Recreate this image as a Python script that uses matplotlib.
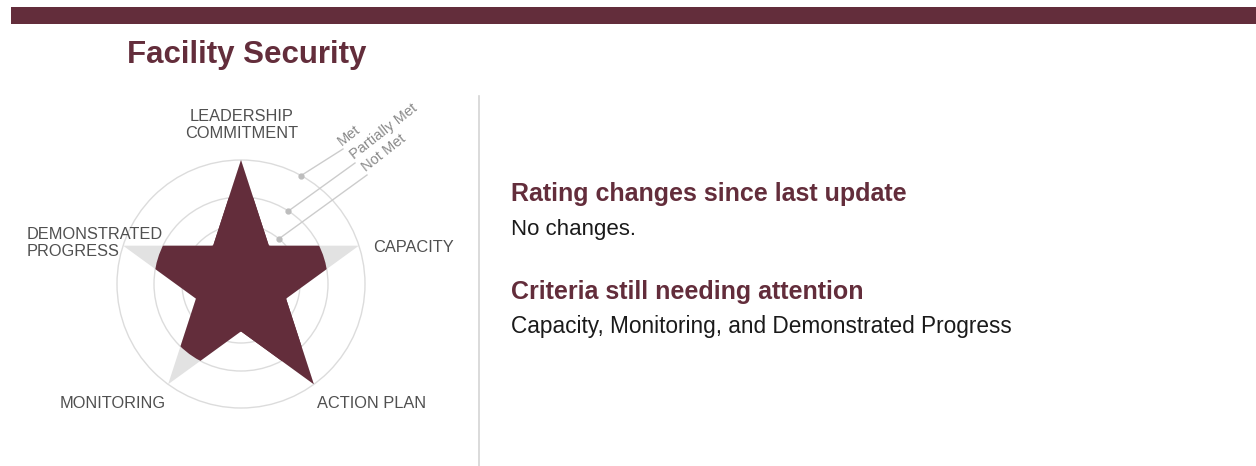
import numpy as np
import matplotlib.pyplot as plt
from matplotlib.patches import Polygon, Circle, Wedge, Rectangle

plt.rcParams['font.family'] = ['Liberation Sans', 'DejaVu Sans']

# data
title = 'Facility Security'
criteria = ['LEADERSHIP\nCOMMITMENT', 'CAPACITY', 'ACTION PLAN', 'MONITORING', 'DEMONSTRATED\nPROGRESS']
ratings = ['Met', 'Partially Met', 'Met', 'Partially Met', 'Partially Met']
levels = ['Not Met', 'Partially Met', 'Met']
changes_head = 'Rating changes since last update'
changes_text = 'No changes.'
attention_head = 'Criteria still needing attention'
attention_text = 'Capacity, Monitoring, and Demonstrated Progress'

maroon = '#632d3b'
W, H = 1256, 466

fig = plt.figure(figsize=(W / 100, H / 100), dpi=100)
ax = fig.add_axes([0, 0, 1, 1])
ax.set_xlim(0, W)
ax.set_ylim(0, H)
ax.axis('off')

def py(y):
    # pixel row from the top -> data y
    return H - y

# header bar and title
ax.add_patch(Rectangle((11, py(24)), W - 11, 17, color=maroon, lw=0))
ax.text(247, py(55), title, ha='center', va='center', fontsize=22.5,
        fontweight='bold', color=maroon)

# separator
ax.plot([479, 479], [py(96), 0], color='#d4d4d4', lw=1.2)

# star chart
cx, cy = 241, py(284)
ring_r = {'Not Met': 59, 'Partially Met': 87, 'Met': 124}
R = ring_r['Met']
r_in = R * 0.382

for lv in levels:
    ax.add_patch(Circle((cx, cy), ring_r[lv], fill=False, ec='#dcdcdc', lw=1.0))

ang = np.deg2rad(90 - 36 * np.arange(10))
rad = np.where(np.arange(10) % 2 == 0, R, r_in)
star_xy = np.column_stack([cx + rad * np.cos(ang), cy + rad * np.sin(ang)])

ax.add_patch(Polygon(star_xy, closed=True, fc='#e2e2e2', ec='none'))

# core of the star up to the lowest rating, then each arm out to its own ring
r_min = min(ring_r[rt] for rt in ratings)
core = Polygon(star_xy, closed=True, fc=maroon, ec='none')
ax.add_patch(core)
core.set_clip_path(Circle((cx, cy), r_min, transform=ax.transData))
for i, rt in enumerate(ratings):
    if ring_r[rt] <= r_min:
        continue
    a = 90 - 72 * i
    clip = Wedge((cx, cy), ring_r[rt], a - 37, a + 37, transform=ax.transData)
    p = Polygon(star_xy, closed=True, fc=maroon, ec='none')
    ax.add_patch(p)
    p.set_clip_path(clip)

# level legend with leader lines
leg_ang = {'Met': 61, 'Partially Met': 57, 'Not Met': 50}
leg_end = {'Met': (343, 149), 'Partially Met': (355, 163), 'Not Met': (367, 175)}
for lv in levels:
    t = np.deg2rad(leg_ang[lv])
    x0 = cx + ring_r[lv] * np.cos(t)
    y0 = cy + ring_r[lv] * np.sin(t)
    x1, y1 = leg_end[lv][0], py(leg_end[lv][1])
    ax.plot([x0, x1], [y0, y1], color='#cccccc', lw=1)
    ax.plot(x0, y0, 'o', ms=3.5, color='#bdbdbd')
    ax.text(x1 + 1, y1 + 1, lv, rotation=38, rotation_mode='anchor',
            ha='left', va='bottom', fontsize=10.5, color='#8a8a8a')

# criterion labels
lab_pos = [(242, 125, 'center'), (373, 248, 'left'), (317, 404, 'left'),
           (113, 404, 'center'), (27, 243, 'left')]
for name, (x, y, ha) in zip(criteria, lab_pos):
    ax.text(x, py(y), name, ha=ha, va='center', fontsize=11.8,
            color='#505050', linespacing=1.2)

# right-hand notes
ax.text(511, py(194), changes_head, ha='left', va='center', fontsize=18,
        fontweight='bold', color=maroon)
ax.text(511, py(229), changes_text, ha='left', va='center', fontsize=16,
        color='#1a1a1a')
ax.text(511, py(292), attention_head, ha='left', va='center', fontsize=18,
        fontweight='bold', color=maroon)
ax.text(511, py(326), attention_text, ha='left', va='center', fontsize=16.3,
        color='#1a1a1a')

fig.savefig('out.png', dpi=100)
